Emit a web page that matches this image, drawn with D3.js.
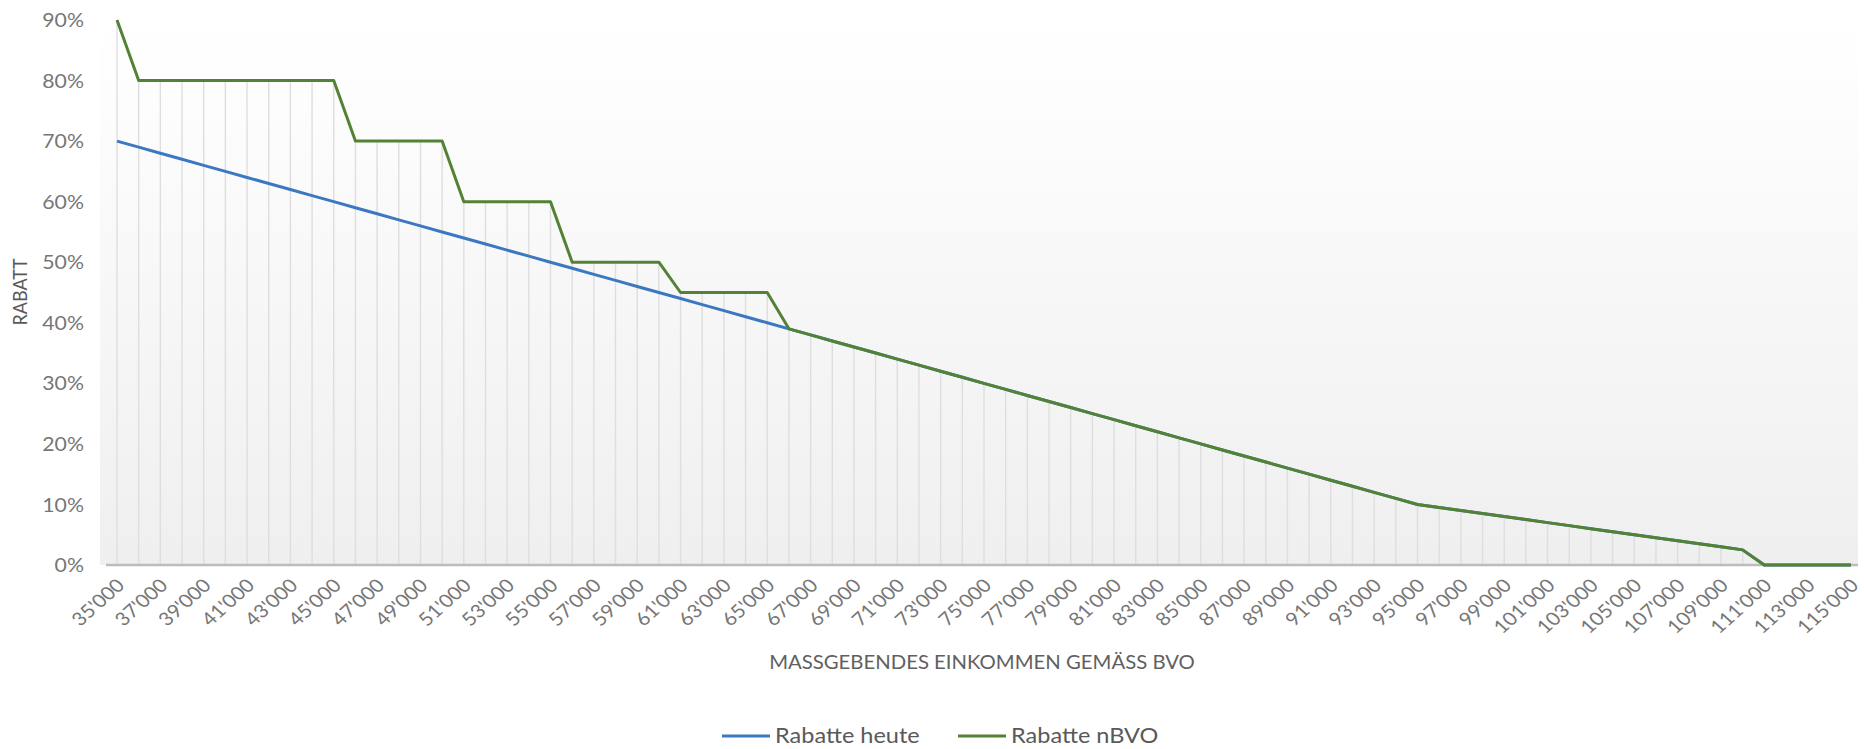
<!DOCTYPE html>
<html>
<head>
<meta charset="utf-8">
<script src="https://cdn.jsdelivr.net/npm/d3@7"></script>
<style>
  html, body { margin: 0; padding: 0; background: #ffffff; }
  svg { display: block; font-family: Lato, "Open Sans", sans-serif; }
</style>
</head>
<body>
<svg id="chart" width="1864" height="749"></svg>
<script>
// Income levels (CHF) on the x axis
const incomes = [
  35000, 36000, 37000, 38000, 39000, 40000, 41000, 42000, 43000, 44000,
  45000, 46000, 47000, 48000, 49000, 50000, 51000, 52000, 53000, 54000,
  55000, 56000, 57000, 58000, 59000, 60000, 61000, 62000, 63000, 64000,
  65000, 66000, 67000, 68000, 69000, 70000, 71000, 72000, 73000, 74000,
  75000, 76000, 77000, 78000, 79000, 80000, 81000, 82000, 83000, 84000,
  85000, 86000, 87000, 88000, 89000, 90000, 91000, 92000, 93000, 94000,
  95000, 96000, 97000, 98000, 99000, 100000, 101000, 102000, 103000, 104000,
  105000, 106000, 107000, 108000, 109000, 110000, 111000, 112000, 113000, 114000,
  115000
];

// Current discount (%)
const rabatteHeute = [
  70, 69, 68, 67, 66, 65, 64, 63, 62, 61,
  60, 59, 58, 57, 56, 55, 54, 53, 52, 51,
  50, 49, 48, 47, 46, 45, 44, 43, 42, 41,
  40, 39, 38, 37, 36, 35, 34, 33, 32, 31,
  30, 29, 28, 27, 26, 25, 24, 23, 22, 21,
  20, 19, 18, 17, 16, 15, 14, 13, 12, 11,
  10, 9.5, 9, 8.5, 8, 7.5, 7, 6.5, 6, 5.5,
  5, 4.5, 4, 3.5, 3, 2.5, 0, 0, 0, 0,
  0
];

// Discount under the new regulation (%)
const rabatteNBVO = [
  90, 80, 80, 80, 80, 80, 80, 80, 80, 80,
  80, 70, 70, 70, 70, 70, 60, 60, 60, 60,
  60, 50, 50, 50, 50, 50, 45, 45, 45, 45,
  45, 39, 38, 37, 36, 35, 34, 33, 32, 31,
  30, 29, 28, 27, 26, 25, 24, 23, 22, 21,
  20, 19, 18, 17, 16, 15, 14, 13, 12, 11,
  10, 9.5, 9, 8.5, 8, 7.5, 7, 6.5, 6, 5.5,
  5, 4.5, 4, 3.5, 3, 2.5, 0, 0, 0, 0,
  0
];

// Labelled incomes on the x axis
const xTickValues = [
  35000, 37000, 39000, 41000, 43000, 45000, 47000, 49000, 51000, 53000,
  55000, 57000, 59000, 61000, 63000, 65000, 67000, 69000, 71000, 73000,
  75000, 77000, 79000, 81000, 83000, 85000, 87000, 89000, 91000, 93000,
  95000, 97000, 99000, 101000, 103000, 105000, 107000, 109000, 111000, 113000,
  115000
];

// Labelled discount levels on the y axis (%)
const yTickValues = [0, 10, 20, 30, 40, 50, 60, 70, 80, 90];

const seriesNames = ["Rabatte heute", "Rabatte nBVO"];
const seriesColors = ["#3b78c2", "#548235"];

const svg = d3.select("#chart");
const STRETCH = 1.12;

const plot = { left: 100, right: 1858, top: 14, bottom: 565 };

const x = d3.scalePoint().domain(incomes).range([117, 1851]);
const y = d3.scaleLinear().domain([0, 90]).range([565, 20]);

// Plot background: soft vertical gradient
const defs = svg.append("defs");
const grad = defs.append("linearGradient")
  .attr("id", "plotBg").attr("x1", 0).attr("y1", 0).attr("x2", 0).attr("y2", 1);
grad.append("stop").attr("offset", "0").attr("stop-color", "#ffffff");
grad.append("stop").attr("offset", "0.15").attr("stop-color", "#fdfdfd");
grad.append("stop").attr("offset", "1").attr("stop-color", "#efefef");

svg.append("rect")
  .attr("x", plot.left).attr("y", plot.top)
  .attr("width", plot.right - plot.left).attr("height", plot.bottom - plot.top)
  .attr("fill", "url(#plotBg)");

// Drop lines from the higher series down to the axis
svg.append("g")
  .selectAll("line")
  .data(incomes.map((inc, i) => ({ inc, v: Math.max(rabatteHeute[i], rabatteNBVO[i]) })))
  .join("line")
  .attr("x1", d => x(d.inc)).attr("x2", d => x(d.inc))
  .attr("y1", d => y(d.v)).attr("y2", y(0))
  .attr("stroke", "#dedede")
  .attr("stroke-width", 1.4);

// x axis
const fmtLocale = d3.formatLocale({ decimal: ".", thousands: "'", grouping: [3], currency: ["", ""] });
const fmt = fmtLocale.format(",d");

const xAxis = svg.append("g")
  .attr("transform", `translate(0,${y(0)})`)
  .call(d3.axisBottom(x).tickValues(xTickValues).tickFormat(fmt).tickSize(0));
xAxis.select(".domain").remove();
xAxis.selectAll(".tick text")
  .attr("x", 0).attr("y", 0).attr("dy", "0.35em")
  .attr("text-anchor", "end")
  .attr("transform", `translate(3,17) scale(${STRETCH},1) rotate(-45)`)
  .attr("font-family", "Lato, sans-serif")
  .attr("font-size", 18.5)
  .attr("fill", "#767676");

svg.append("line")
  .attr("x1", 106).attr("x2", plot.right)
  .attr("y1", y(0)).attr("y2", y(0))
  .attr("stroke", "#bcbcbc").attr("stroke-width", 2.5);

// y axis (labels only)
const yAxis = svg.append("g")
  .attr("transform", "translate(84,0)")
  .call(d3.axisLeft(y).tickValues(yTickValues).tickFormat(d => d + "%").tickSize(0).tickPadding(0));
yAxis.select(".domain").remove();
yAxis.selectAll(".tick text")
  .attr("x", 0).attr("dy", "0.35em")
  .attr("transform", `scale(${STRETCH},1)`)
  .attr("transform-origin", "0 0")
  .attr("font-family", "Lato, sans-serif")
  .attr("font-size", 19)
  .attr("fill", "#767676");

// Series lines
const line = d3.line().x(d => x(d[0])).y(d => y(d[1]));
[rabatteHeute, rabatteNBVO].forEach((vals, k) => {
  svg.append("path")
    .datum(incomes.map((inc, i) => [inc, vals[i]]))
    .attr("fill", "none")
    .attr("stroke", seriesColors[k])
    .attr("stroke-width", 3)
    .attr("stroke-linejoin", "round")
    .attr("d", line);
});

// Axis titles
svg.append("text")
  .attr("transform", `translate(982,669) scale(1.07,1)`)
  .attr("text-anchor", "middle")
  .attr("font-size", 19)
  .attr("fill", "#606060")
  .text("MASSGEBENDES EINKOMMEN GEMÄSS BVO");

svg.append("text")
  .attr("transform", `translate(27,292) scale(${STRETCH},1) rotate(-90)`)
  .attr("text-anchor", "middle")
  .attr("font-size", 18)
  .attr("fill", "#595959")
  .text("RABATT");

// Legend
const legendItems = [
  { name: seriesNames[0], color: seriesColors[0], x: 722 },
  { name: seriesNames[1], color: seriesColors[1], x: 958 }
];
const lg = svg.append("g");
legendItems.forEach(it => {
  lg.append("line")
    .attr("x1", it.x).attr("x2", it.x + 48)
    .attr("y1", 736).attr("y2", 736)
    .attr("stroke", it.color).attr("stroke-width", 3);
  lg.append("text")
    .attr("transform", `translate(${it.x + 53},743) scale(${STRETCH},1)`)
    .attr("font-size", 21)
    .attr("fill", "#595959")
    .text(it.name);
});
</script>
</body>
</html>
